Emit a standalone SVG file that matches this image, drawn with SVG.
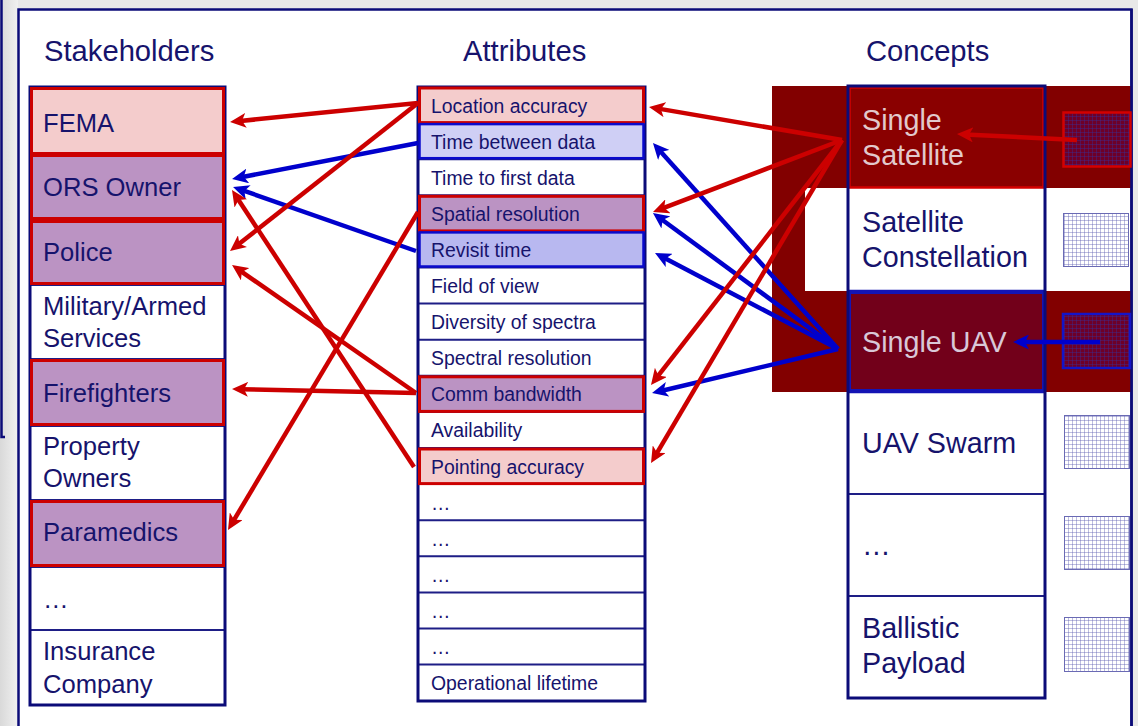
<svg xmlns="http://www.w3.org/2000/svg" width="1138" height="726" viewBox="0 0 1138 726">
  <style>
    text { font-family: "Liberation Sans", Arial, sans-serif; fill: #16136c; }
    .head { font-size: 29.2px; }
    .stk { font-size: 25.6px; }
    .att { font-size: 19.4px; }
    .con { font-size: 28.7px; }
    .con-hi { fill: #e2c9cc; }
    .frame { fill: none; stroke: #0b0b78; stroke-width: 3; }
    .div { stroke: #1e1e86; stroke-width: 2; }
    .hl-red { fill: none; stroke: #cc0000; stroke-width: 3; }
    .hl-blue { fill: none; stroke: #0a0acc; stroke-width: 2.5; }
    .pink { fill: #f4cccc; }
    .purple { fill: #bb93c3; }
    .lblue { fill: #cfcff5; }
    .mblue { fill: #b8b8f0; }
    .r { stroke: #cc0000; stroke-width: 4.5; fill: none; marker-end: url(#ah-red); }
    .b { stroke: #0000cc; stroke-width: 4.5; fill: none; marker-end: url(#ah-blue); }
  </style>
  <defs>
    <linearGradient id="side" x1="0" y1="0" x2="1" y2="0">
      <stop offset="0" stop-color="#d9d9d9"/>
      <stop offset="1" stop-color="#f0f0f0"/>
    </linearGradient>
    <pattern id="grid" width="4" height="4" patternUnits="userSpaceOnUse">
      <path d="M4 0H0V4" fill="none" stroke="#5a5ab0" stroke-width="0.8"/>
    </pattern>
    <pattern id="grid-dark" width="4" height="4" patternUnits="userSpaceOnUse">
      <rect width="4" height="4" fill="#6e0028"/>
      <path d="M4 0H0V4" fill="none" stroke="#35309a" stroke-width="0.8"/>
    </pattern>
    <marker id="ah-red" markerUnits="userSpaceOnUse" markerWidth="16" markerHeight="15" viewBox="0 0 16 15" refX="8" refY="7.5" orient="auto">
      <path d="M0,0 L16,7.5 L0,15 L4,7.5 Z" fill="#cc0000"/>
    </marker>
    <marker id="ah-blue" markerUnits="userSpaceOnUse" markerWidth="16" markerHeight="15" viewBox="0 0 16 15" refX="8" refY="7.5" orient="auto">
      <path d="M0,0 L16,7.5 L0,15 L4,7.5 Z" fill="#0000cc"/>
    </marker>
  </defs>

  <!-- page background and side panel -->
  <rect width="1138" height="726" fill="#e8e8e8"/>
  <rect x="0" y="0" width="18" height="726" fill="url(#side)"/>
  <path d="M1.5 0V437H5" fill="none" stroke="#0b0b78" stroke-width="2.5"/>

  <!-- main sheet -->
  <rect x="18.5" y="9.5" width="1113" height="730" fill="#ffffff" stroke="#0b0b78" stroke-width="2.5"/>

  <!-- column headings -->
  <text class="head" x="44" y="61">Stakeholders</text>
  <text class="head" x="463" y="61">Attributes</text>
  <text class="head" x="866" y="61">Concepts</text>

  <!-- concept highlight band -->
  <path d="M772 86H1131V188H805V291H1131V392H772Z" fill="#820000"/>
  <path d="M1131.5 9V726" stroke="#0b0b78" stroke-width="2.5"/>

  <!-- stakeholders -->
  <g id="stakeholders">
    <rect x="30" y="87" width="195" height="618" fill="#ffffff"/>
    <g id="stk-fema"><rect class="pink" x="30" y="87" width="195" height="67"/><text class="stk" x="43" y="132">FEMA</text></g>
    <g id="stk-ors"><rect class="purple" x="30" y="154" width="195" height="66"/><text class="stk" x="43" y="196">ORS Owner</text></g>
    <g id="stk-police"><rect class="purple" x="30" y="220" width="195" height="65"/><text class="stk" x="43" y="261">Police</text></g>
    <g id="stk-military"><text class="stk" x="43" y="315">Military/Armed</text><text class="stk" x="43" y="347">Services</text></g>
    <g id="stk-fire"><rect class="purple" x="30" y="359" width="195" height="67"/><text class="stk" x="43" y="402">Firefighters</text></g>
    <g id="stk-property"><text class="stk" x="43" y="455">Property</text><text class="stk" x="43" y="487">Owners</text></g>
    <g id="stk-para"><rect class="purple" x="30" y="500" width="195" height="67"/><text class="stk" x="43" y="541">Paramedics</text></g>
    <g id="stk-more"><text class="stk" x="43" y="608">…</text></g>
    <g id="stk-insurance"><text class="stk" x="43" y="660">Insurance</text><text class="stk" x="43" y="693">Company</text></g>
    <path class="div" d="M30 154H225M30 220H225M30 285H225M30 359H225M30 426H225M30 500H225M30 567H225M30 630H225"/>
    <rect class="frame" x="30" y="87" width="195" height="618"/>
    <rect class="hl-red" x="31.5" y="88.5" width="192" height="65"/>
    <rect class="hl-red" x="31.5" y="155.5" width="192" height="63"/>
    <rect class="hl-red" x="31.5" y="221.5" width="192" height="62"/>
    <rect class="hl-red" x="31.5" y="360.5" width="192" height="64"/>
    <rect class="hl-red" x="31.5" y="501.5" width="192" height="64"/>
  </g>

  <!-- attributes -->
  <g id="attributes">
    <rect x="418" y="87" width="227" height="614" fill="#ffffff"/>
    <g id="att-location"><rect class="pink" x="418" y="87" width="227" height="36.1"/><text class="att" x="431" y="112.5">Location accuracy</text></g>
    <g id="att-between"><rect class="lblue" x="418" y="123.1" width="227" height="36.1"/><text class="att" x="431" y="148.6">Time between data</text></g>
    <g id="att-first"><text class="att" x="431" y="184.7">Time to first data</text></g>
    <g id="att-spatial"><rect class="purple" x="418" y="195.3" width="227" height="36.1"/><text class="att" x="431" y="220.8">Spatial resolution</text></g>
    <g id="att-revisit"><rect class="mblue" x="418" y="231.4" width="227" height="36.1"/><text class="att" x="431" y="256.9">Revisit time</text></g>
    <g id="att-fov"><text class="att" x="431" y="293">Field of view</text></g>
    <g id="att-diversity"><text class="att" x="431" y="329.1">Diversity of spectra</text></g>
    <g id="att-specres"><text class="att" x="431" y="365.2">Spectral resolution</text></g>
    <g id="att-comm"><rect class="purple" x="418" y="375.8" width="227" height="36.1"/><text class="att" x="431" y="401.3">Comm bandwidth</text></g>
    <g id="att-avail"><text class="att" x="431" y="437.4">Availability</text></g>
    <g id="att-pointing"><rect class="pink" x="418" y="448" width="227" height="36.1"/><text class="att" x="431" y="473.5">Pointing accuracy</text></g>
    <g id="att-more1"><text class="att" x="431" y="509.6">…</text></g>
    <g id="att-more2"><text class="att" x="431" y="545.7">…</text></g>
    <g id="att-more3"><text class="att" x="431" y="581.8">…</text></g>
    <g id="att-more4"><text class="att" x="431" y="617.9">…</text></g>
    <g id="att-more5"><text class="att" x="431" y="654">…</text></g>
    <g id="att-life"><text class="att" x="431" y="690.1">Operational lifetime</text></g>
    <path class="div" d="M418 123.1H645M418 159.2H645M418 195.3H645M418 231.4H645M418 267.5H645M418 303.6H645M418 339.7H645M418 375.8H645M418 411.9H645M418 448H645M418 484.1H645M418 520.2H645M418 556.3H645M418 592.4H645M418 628.5H645M418 664.6H645"/>
    <rect class="frame" x="418" y="87" width="227" height="614"/>
    <rect class="hl-red" x="419.5" y="88" width="224" height="34.6"/>
    <rect class="hl-blue" x="419.5" y="124.1" width="224" height="34.1"/>
    <rect class="hl-red" x="419.5" y="196.3" width="224" height="34.6"/>
    <rect class="hl-blue" x="419.5" y="232.4" width="224" height="34.1"/>
    <rect class="hl-red" x="419.5" y="376.8" width="224" height="34.6"/>
    <rect class="hl-red" x="419.5" y="449" width="224" height="34.6"/>
  </g>

  <!-- concepts -->
  <g id="concepts">
    <rect x="848" y="188" width="197" height="103" fill="#ffffff"/>
    <rect x="848" y="392" width="197" height="306" fill="#ffffff"/>
    <g id="con-single-sat">
      <rect x="848" y="86" width="197" height="102" fill="#8a0000"/>
      <rect x="849.5" y="87.5" width="194" height="100" fill="none" stroke="#d40000" stroke-width="2.5"/>
      <text class="con con-hi" x="862" y="130">Single</text>
      <text class="con con-hi" x="862" y="165">Satellite</text>
    </g>
    <g id="con-constellation">
      <text class="con" x="862" y="232">Satellite</text>
      <text class="con" x="862" y="267">Constellation</text>
    </g>
    <g id="con-single-uav">
      <rect x="848" y="291" width="197" height="101" fill="#72001a"/>
      <rect x="849.5" y="292.5" width="194" height="98" fill="none" stroke="#1414b4" stroke-width="3"/>
      <text class="con con-hi" x="862" y="352" style="fill:#d9c8d8">Single UAV</text>
    </g>
    <g id="con-swarm"><text class="con" x="862" y="453">UAV Swarm</text></g>
    <g id="con-more"><text class="con" x="862" y="555">…</text></g>
    <g id="con-ballistic"><text class="con" x="862" y="638">Ballistic</text><text class="con" x="862" y="673">Payload</text></g>
    <path class="div" d="M848 494H1045M848 596H1045"/>
    <path d="M848 291H1045M848 392H1045" stroke="#1414b4" stroke-width="2.5"/>
    <rect class="frame" x="848" y="86" width="197" height="612"/>
  </g>

  <!-- concept icons -->
  <g id="icon-single-sat"><rect x="1063.5" y="112.5" width="67" height="54" fill="url(#grid-dark)" stroke="#d40000" stroke-width="2.5"/></g>
  <g id="icon-constellation"><rect x="1063.5" y="213.5" width="65" height="53" fill="url(#grid)" stroke="#6a6ab4"/></g>
  <g id="icon-single-uav"><rect x="1063" y="314" width="67" height="54" fill="url(#grid-dark)" stroke="#1414c8" stroke-width="2.5"/></g>
  <g id="icon-swarm"><rect x="1064.5" y="415.5" width="65" height="53" fill="url(#grid)" stroke="#6a6ab4"/></g>
  <g id="icon-more"><rect x="1064.5" y="516.5" width="65" height="53" fill="url(#grid)" stroke="#6a6ab4"/></g>
  <g id="icon-ballistic"><rect x="1064.5" y="617.5" width="65" height="54" fill="url(#grid)" stroke="#6a6ab4"/></g>

  <!-- connectors -->
  <g id="connectors">
    <!-- attributes to stakeholders -->
    <path class="b" d="M418 143L239.9 177.5"/>
    <path class="b" d="M416 251L240.6 189.6"/>
    <path class="r" d="M418 103L238 121.2"/>
    <path class="r" d="M418 103L236.3 246.1"/>
    <path class="r" d="M414 467L236.4 196.7"/>
    <path class="r" d="M416 393L238.6 269.6"/>
    <path class="r" d="M416 393L240 389.2"/>
    <path class="r" d="M418 212L232.1 523.1"/>
    <!-- concepts to attributes -->
    <path class="b" d="M838 349L658.3 149"/>
    <path class="b" d="M838 349L659.4 217.7"/>
    <path class="b" d="M838 349L662.1 256.7"/>
    <path class="b" d="M838 349L659.8 391.2"/>
    <path class="r" d="M842 140L656.9 108.4"/>
    <path class="r" d="M842 140L660.5 209.2"/>
    <path class="r" d="M842 140L655.9 378.7"/>
    <path class="r" d="M842 140L655.1 456.1"/>
    <!-- icons to concepts -->
    <path class="r" d="M1077 140L965 134.4"/>
    <path class="b" d="M1100 342L1021 342"/>
  </g>
</svg>
